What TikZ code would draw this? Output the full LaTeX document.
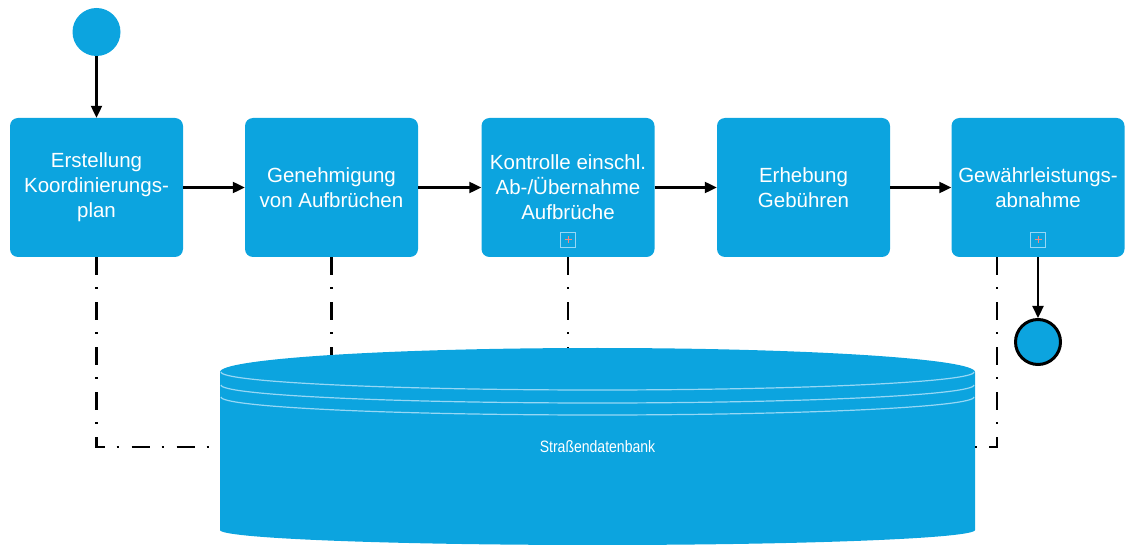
\documentclass[tikz,border=0pt]{standalone}
\usepackage{fontspec}
\setmainfont{Liberation Sans}
\usetikzlibrary{arrows.meta,calc}
\definecolor{bpmnblue}{RGB}{12,164,223}
\definecolor{rimline}{RGB}{150,215,245}
\definecolor{plusred}{RGB}{240,140,130}
\tikzset{
  task/.style={draw=none,fill=bpmnblue,rounded corners=8pt,minimum width=173pt,minimum height=139pt,
    text=white,align=center,font=\fontsize{20.5}{25}\selectfont,inner sep=0pt},
  flow/.style={draw=black,line width=2.2pt,-{Triangle[length=12pt,width=11pt]}},
  assoc/.style={draw=black,line width=2.2pt,dash pattern=on 18pt off 12pt on 2pt off 13pt},
  marker/.style={draw=rimline,line width=0.8pt,minimum size=15pt,inner sep=0pt,fill=bpmnblue},
}
\begin{document}
\begin{tikzpicture}[x=1pt,y=1pt]
\useasboundingbox (0,0) rectangle (1125,-545);
% start and end events
\node[circle,fill=bpmnblue,minimum size=48pt,inner sep=0pt] (start) at (96.5,-32) {};
% tasks
\node[task] (b1) at (96.5,-187.5) {Erstellung\\Koordinierungs-\\plan};
\node[task] (b2) at (331.5,-187.5) {Genehmigung\\von Aufbrüchen};
\node[task] (b3) at (568,-187.5) {Kontrolle einschl.\\Ab-/Übernahme\\Aufbrüche};
\node[task] (b4) at (803.5,-187.5) {Erhebung\\Gebühren};
\node[task] (b5) at (1038,-187.5) {Gewährleistungs-\\abnahme};
% sub-process markers
\node[marker] (m3) at (568,-240) {};
\node[marker] (m5) at (1038,-240) {};
\foreach \m in {m3,m5}{
  \draw[plusred,line width=1pt] ($(\m.center)+(-3.5,0)$) -- ($(\m.center)+(3.5,0)$)
    ($(\m.center)+(0,-3.5)$) -- ($(\m.center)+(0,3.5)$);
}
\node[circle,fill=bpmnblue,draw=black,line width=3pt,minimum size=45pt,inner sep=0pt] (end) at (1038,-342) {};
% database cylinder
\fill[bpmnblue] (220,-372) -- (220,-530)
  arc[start angle=180,end angle=360,x radius=377.5pt,y radius=15pt]
  -- (975,-372)
  arc[start angle=0,end angle=180,x radius=377.5pt,y radius=24pt] -- cycle;
\foreach \yy in {372,385,397}{
  \draw[rimline,line width=1.2pt] (221,-\yy) arc[start angle=180,end angle=360,x radius=376.5pt,y radius=18pt];
}
\node[text=white,font=\fontsize{16.5}{18}\selectfont,inner sep=0pt,xscale=0.85] (db) at (597.5,-447) {Straßendatenbank};
\coordinate (dbL) at (220,-447);
\coordinate (dbR) at (975,-447);
\coordinate (dbT2) at (331.5,-355);
\coordinate (dbT3) at (568,-348);
% sequence flows
\draw[flow] (start) -- (b1);
\draw[flow] (b1) -- (b2);
\draw[flow] (b2) -- (b3);
\draw[flow] (b3) -- (b4);
\draw[flow] (b4) -- (b5);
\draw[flow] (b5.south) -- (end);
% data associations
\draw[assoc] (b1.south) |- (dbL);
\draw[assoc] (b2.south) -- (dbT2);
\draw[assoc] (b3.south) -- (dbT3);
\draw[assoc] ([xshift=-41pt]b5.south) |- (dbR);
\end{tikzpicture}
\end{document}
